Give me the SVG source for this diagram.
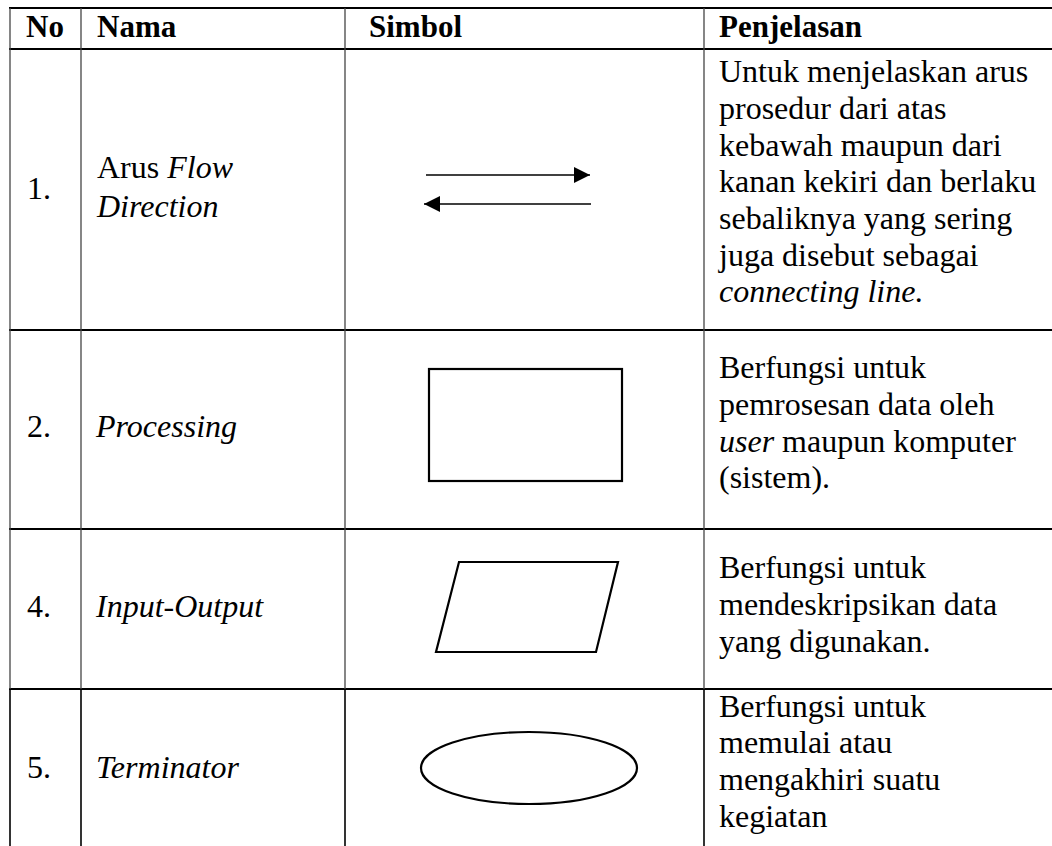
<svg xmlns="http://www.w3.org/2000/svg" width="1052" height="846" viewBox="0 0 1052 846">
<style>
text{font-family:"Liberation Serif","Times New Roman",serif;font-size:32px;fill:#000}
.h{font-weight:bold;font-size:31px}
.i{font-style:italic}
.hl{stroke:#000;stroke-width:2.2}
.vl{stroke:#444;stroke-width:1.3}
.vb{stroke:#000;stroke-width:1.6}
.sym{fill:none;stroke:#000;stroke-width:2.2}
.ar{stroke:#000;stroke-width:1.4}
</style>
<defs>
<marker id="ah" viewBox="0 0 16 16" refX="16" refY="8" markerWidth="16" markerHeight="16" markerUnits="userSpaceOnUse" orient="auto">
<path d="M0,0 L16,8 L0,16 z" fill="#000"/>
</marker>
</defs>
<rect width="1052" height="846" fill="#fff"/>
<g id="grid">
<line class="hl" x1="9" y1="8" x2="1052" y2="8"/>
<line class="hl" x1="9" y1="49" x2="1052" y2="49"/>
<line class="hl" x1="9" y1="330" x2="1052" y2="330"/>
<line class="hl" x1="9" y1="529" x2="1052" y2="529"/>
<line class="hl" x1="9" y1="689" x2="1052" y2="689"/>
<line class="vl" x1="10" y1="8" x2="10" y2="689"/>
<line class="vl" x1="81" y1="8" x2="81" y2="689"/>
<line class="vl" x1="345" y1="8" x2="345" y2="689"/>
<line class="vl" x1="704" y1="8" x2="704" y2="689"/>
<line class="vb" x1="10" y1="689" x2="10" y2="846"/>
<line class="vb" x1="81" y1="689" x2="81" y2="846"/>
<line class="vb" x1="345" y1="689" x2="345" y2="846"/>
<line class="vb" x1="704" y1="689" x2="704" y2="846"/>
</g>
<g id="header">
<text class="h" x="26" y="37">No</text>
<text class="h" x="97" y="37">Nama</text>
<text class="h" x="369" y="37">Simbol</text>
<text class="h" x="719" y="37">Penjelasan</text>
</g>
<g id="row1">
<text x="27" y="199">1.</text>
<text x="97" y="178">Arus <tspan class="i">Flow</tspan></text>
<text class="i" x="97" y="217">Direction</text>
<text x="719" y="82">Untuk menjelaskan arus</text>
<text x="719" y="119">prosedur dari atas</text>
<text x="719" y="155.5">kebawah maupun dari</text>
<text x="719" y="192">kanan kekiri dan berlaku</text>
<text x="719" y="229">sebaliknya yang sering</text>
<text x="719" y="265.5">juga disebut sebagai</text>
<text class="i" x="719" y="302">connecting line.</text>
</g>
<g id="connectors">
<line class="ar" x1="426" y1="175" x2="590" y2="175" marker-end="url(#ah)"/>
<line class="ar" x1="591" y1="204" x2="424" y2="204" marker-end="url(#ah)"/>
</g>
<g id="row2">
<text x="27" y="437">2.</text>
<text class="i" x="96" y="437">Processing</text>
<rect class="sym" x="429" y="369" width="193" height="112" stroke-width="2.6"/>
<text x="719" y="378">Berfungsi untuk</text>
<text x="719" y="415">pemrosesan data oleh</text>
<text x="719" y="451.5"><tspan class="i">user</tspan> maupun komputer</text>
<text x="719" y="488">(sistem).</text>
</g>
<g id="row3">
<text x="27" y="617">4.</text>
<text class="i" x="96" y="617">Input-Output</text>
<polygon class="sym" points="459,562 618,562 596,652 436,652"/>
<text x="719" y="578">Berfungsi untuk</text>
<text x="719" y="615">mendeskripsikan data</text>
<text x="719" y="651.5">yang digunakan.</text>
</g>
<g id="row4">
<text x="27" y="778">5.</text>
<text class="i" x="96" y="778">Terminator</text>
<ellipse class="sym" cx="529" cy="768" rx="108" ry="36"/>
<text x="719" y="716.5">Berfungsi untuk</text>
<text x="719" y="753">memulai atau</text>
<text x="719" y="790">mengakhiri suatu</text>
<text x="719" y="826.5">kegiatan</text>
</g>
</svg>
